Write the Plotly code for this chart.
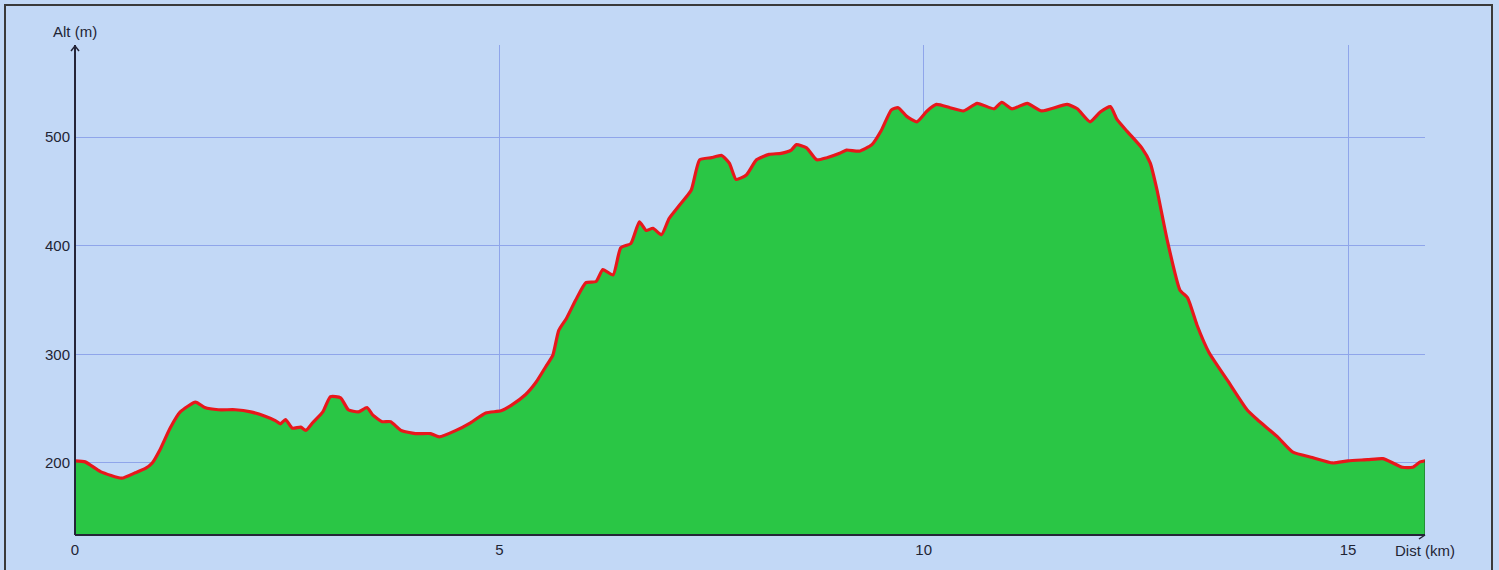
import plotly.graph_objects as go

dist_km = [0.00, 0.12, 0.30, 0.55, 0.71, 0.83, 0.91, 1.00, 1.12, 1.24, 1.42, 1.53, 1.69, 1.89,
           2.07, 2.24, 2.36, 2.42, 2.48, 2.56, 2.66, 2.72, 2.80, 2.92, 3.01, 3.13, 3.22, 3.34,
           3.44, 3.51, 3.62, 3.72, 3.84, 4.01, 4.19, 4.29, 4.49, 4.66, 4.84, 5.02, 5.14, 5.31,
           5.43, 5.55, 5.63, 5.70, 5.79, 5.90, 6.02, 6.14, 6.22, 6.34, 6.43, 6.55, 6.65, 6.73,
           6.81, 6.91, 7.00, 7.12, 7.26, 7.36, 7.50, 7.62, 7.71, 7.79, 7.91, 8.03, 8.18, 8.32,
           8.44, 8.50, 8.62, 8.74, 8.86, 9.01, 9.09, 9.24, 9.39, 9.50, 9.62, 9.70, 9.80, 9.92,
           10.04, 10.15, 10.31, 10.47, 10.63, 10.83, 10.92, 11.04, 11.22, 11.39, 11.69, 11.81,
           11.96, 12.08, 12.20, 12.28, 12.40, 12.57, 12.67, 12.75, 12.87, 13.02, 13.11, 13.22,
           13.36, 13.58, 13.81, 13.93, 14.17, 14.35, 14.58, 14.82, 15.00, 15.23, 15.41, 15.53,
           15.64, 15.76, 15.85, 15.91]
alt_m = [202, 201, 192, 186, 191, 195, 200, 212, 232, 247, 256, 251, 249, 249,
         247, 243, 239, 236, 240, 232, 233, 230, 237, 247, 261, 260, 249, 247,
         251, 244, 238, 238, 230, 227, 227, 224, 230, 237, 246, 248, 253, 263,
         274, 289, 299, 322, 333, 350, 366, 367, 378, 373, 398, 402, 422, 414,
         416, 410, 425, 437, 451, 479, 481, 483, 476, 461, 465, 479, 484, 485,
         488, 493, 490, 479, 481, 485, 488, 487, 493, 506, 525, 527, 519, 514,
         524, 530, 527, 524, 531, 526, 532, 526, 531, 524, 530, 526,
         514, 523, 528, 516, 505, 490, 476, 451, 405, 359, 352, 327,
         302, 276, 249, 240, 224, 210, 205, 200, 202, 203, 204, 200,
         196, 196, 201, 202]

x_ticks = [0, 5, 10, 15]
y_ticks = [200, 300, 400, 500]
x_range = [0, 15.907]
y_range = [133.7, 584.7]

bg = "#C2D8F6"
grid = "#8FA5EA"
axis_col = "#252538"
txt_col = "#1F2535"
font = dict(family="Liberation Sans, Arial, sans-serif", size=15, color=txt_col)

fig = go.Figure()
fig.add_trace(go.Scatter(
    x=dist_km, y=alt_m, mode="lines", fill="tozeroy",
    fillcolor="#2AC645", line=dict(color="#E8171B", width=3.2, shape="spline", smoothing=0.5),
    hoverinfo="x+y", showlegend=False))

fig.update_layout(
    width=1499, height=570,
    margin=dict(l=75, r=74, t=45, b=35),
    paper_bgcolor=bg, plot_bgcolor=bg,
    font=font,
    xaxis=dict(range=x_range, tickvals=x_ticks, ticktext=[str(v) for v in x_ticks],
               showgrid=True, gridcolor=grid, gridwidth=1, zeroline=False,
               showline=False, ticks="", ticklabelstandoff=4, fixedrange=True),
    yaxis=dict(range=y_range, tickvals=y_ticks, ticktext=[str(v) for v in y_ticks],
               showgrid=True, gridcolor=grid, gridwidth=1, zeroline=False,
               showline=False, ticks="", ticklabelstandoff=4, fixedrange=True),
)

shapes = []
# end edge of the filled profile
shapes.append(dict(type="line", xref="x", yref="y", x0=dist_km[-1], x1=dist_km[-1],
                   y0=y_range[0], y1=alt_m[-1], line=dict(color="#1E5A25", width=1.5), layer="above"))
# axes
shapes.append(dict(type="line", xref="paper", yref="paper", x0=0, x1=1, y0=0, y1=0,
                   line=dict(color=axis_col, width=2), layer="above"))
shapes.append(dict(type="line", xref="paper", yref="paper", x0=0, x1=0, y0=0, y1=1,
                   line=dict(color=axis_col, width=2), layer="above"))
# arrow heads (pixel-sized)
for dx in (-4, 4):
    shapes.append(dict(type="line", xref="paper", yref="paper", xsizemode="pixel", ysizemode="pixel",
                       xanchor=0, yanchor=1, x0=0, y0=-1, x1=dx, y1=-6,
                       line=dict(color=axis_col, width=1.5), layer="above"))
shapes.append(dict(type="line", xref="paper", yref="paper", xsizemode="pixel", ysizemode="pixel",
                   xanchor=1, yanchor=0, x0=0, y0=0, x1=-6, y1=-4,
                   line=dict(color=axis_col, width=1.5), layer="above"))
# outer frame
shapes.append(dict(type="rect", xref="paper", yref="paper",
                   x0=(5 - 75) / 1350, x1=(1492 - 75) / 1350,
                   y0=(535 - 580) / 490, y1=(535 - 5) / 490,
                   line=dict(color="#3A3A3A", width=2), fillcolor="rgba(0,0,0,0)", layer="above"))
fig.update_layout(shapes=shapes)

fig.add_annotation(text="Alt (m)", xref="paper", yref="paper", x=0, y=(535 - 31) / 490,
                   showarrow=False, xanchor="center", yanchor="middle", font=dict(size=15, color=txt_col))
fig.add_annotation(text="Dist (km)", xref="paper", yref="paper", x=1, y=(535 - 550) / 490,
                   showarrow=False, xanchor="center", yanchor="middle", font=dict(size=15, color=txt_col))

fig.write_html("out.html", config={"displayModeBar": False},
               post_script="document.body.style.margin='0';document.body.style.overflow='hidden';")
